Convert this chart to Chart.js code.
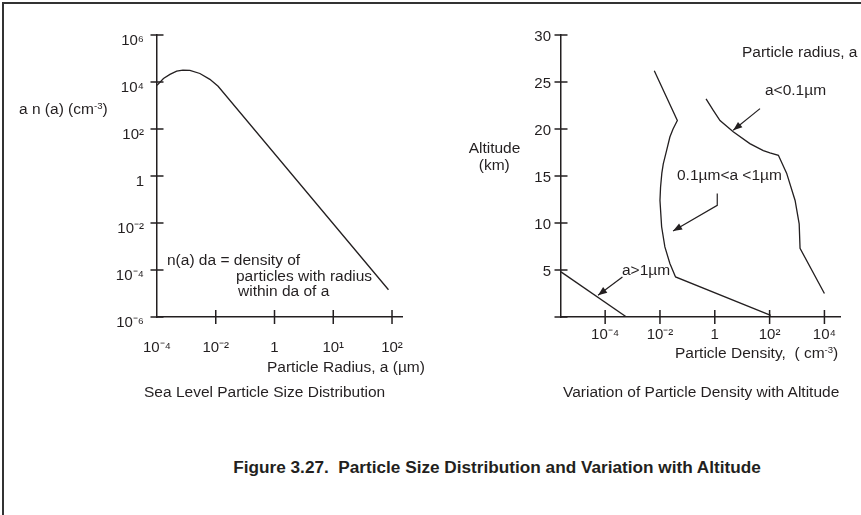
<!DOCTYPE html>
<html><head><meta charset="utf-8">
<script src="https://cdn.jsdelivr.net/npm/chart.js@4"></script>
<style>
html,body{margin:0;padding:0;background:#fff;}
#page{position:relative;width:861px;height:515px;overflow:hidden;font-family:"Liberation Sans",Arial,sans-serif;color:#231f20;}
.bl{position:absolute;left:2px;top:2px;width:2px;height:513px;background:#333;}
.bt{position:absolute;left:2px;top:2px;width:859px;height:2px;background:#333;}
.wrap{position:absolute;top:0;}
.t{position:absolute;white-space:nowrap;font-size:15.5px;line-height:1;}
.c{transform:translateX(-50%);}
.t sup{font-size:0.62em;vertical-align:0.5em;line-height:0;}
.cap{font-weight:bold;font-size:17.2px;}
</style></head>
<body><div id="page">
<div class="bl"></div><div class="bt"></div>
<div class="wrap" style="left:0;width:430px;height:420px"><canvas id="c1" width="430" height="420"></canvas></div>
<div class="wrap" style="left:430px;width:431px;height:420px"><canvas id="c2" width="431" height="420"></canvas></div>

<div class="t" style="left:19px;top:101px">a n (a) (cm<sup>-3</sup>)</div>
<div class="t" style="left:267px;top:358.5px">Particle Radius, a (µm)</div>
<div class="t" style="left:144px;top:383.5px">Sea Level Particle Size Distribution</div>
<div class="t" style="left:167px;top:252px">n(a) da = density of</div>
<div class="t" style="left:236px;top:268px">particles with radius</div>
<div class="t" style="left:238px;top:283px">within da of a</div>

<div class="t" style="left:742px;top:44px">Particle radius, a</div>
<div class="t" style="left:765px;top:82px">a&lt;0.1µm</div>
<div class="t" style="left:677px;top:167px">0.1µm&lt;a &lt;1µm</div>
<div class="t" style="left:622px;top:262px">a&gt;1µm</div>
<div class="t c" style="left:494.5px;top:140px">Altitude</div>
<div class="t c" style="left:494.3px;top:157px">(km)</div>
<div class="t" style="left:675px;top:345px">Particle Density,&nbsp; ( cm<sup>-3</sup>)</div>
<div class="t" style="left:563px;top:383.5px">Variation of Particle Density with Altitude</div>
<div class="t c cap" style="left:497px;top:458.5px">Figure 3.27.&nbsp; Particle Size Distribution and Variation with Altitude</div>
</div>
<script>
// ---- Left: sea level particle size distribution ----
const sizeTickPos = [0, 1, 2, 3, 4];
const sizeTickLabels = ['10⁻⁴', '10⁻²', '1', '10¹', '10²'];
const sizeRadiusPos = [0, 0.11, 0.22, 0.335, 0.44, 0.56, 0.73, 0.90, 1.04, 3.94];
const sizeAN = [7200, 14000, 21000, 29000, 32000, 31000, 23000, 13000, 6600, 1.45e-5];
const anTickValues = [1e-6, 1e-4, 1e-2, 1, 1e2, 1e4, 1e6];
const anTickLabels = ['10⁻⁶', '10⁻⁴', '10⁻²', '1', '10²', '10⁴', '10⁶'];

// ---- Right: particle density vs altitude ----
const densTickValues = [1e-4, 1e-2, 1, 1e2, 1e4];
const densTickLabels = ['10⁻⁴', '10⁻²', '1', '10²', '10⁴'];
const altTickValues = [0, 5, 10, 15, 20, 25, 30];
const altTickLabels = ['', '5', '10', '15', '20', '25', '30'];
const largeDensity = [2.45e-6, 6.0e-4];
const largeAlt = [4.8, 0];
const midDensity = [0.0062, 0.043, 0.030, 0.023, 0.0174, 0.0132, 0.0117, 0.0105, 0.0100, 0.0115, 0.0151, 0.023, 0.037, 110];
const midAlt = [26.2, 20.9, 20.0, 19.15, 17.7, 16.3, 15.3, 13.8, 12.4, 9.6, 7.45, 5.7, 4.26, 0.18];
const smallDensity = [0.48, 0.87, 1.55, 4.7, 19, 59, 103, 209, 417, 851, 1200, 1290, 10000];
const smallAlt = [23.2, 22.0, 20.9, 19.7, 18.45, 17.7, 17.45, 17.2, 15.3, 12.4, 9.9, 7.3, 2.5];

const INK = '#231f20';
const FAM = '"Liberation Sans", Arial, sans-serif';

const crossTicks = {
  id: 'crossTicks',
  afterDatasetsDraw(chart, args, o) {
    const ctx = chart.ctx, xs = chart.scales.x, ys = chart.scales.y;
    ctx.save(); ctx.strokeStyle = o.color; ctx.lineWidth = o.width; ctx.beginPath();
    xs.ticks.forEach(t => {
      if ((o.xSkip || []).includes(t.value)) return;
      const p = xs.getPixelForValue(t.value);
      ctx.moveTo(p, xs.top - o.xLen); ctx.lineTo(p, xs.top + o.xLen);
    });
    ys.ticks.forEach(t => {
      const p = ys.getPixelForValue(t.value);
      ctx.moveTo(ys.right - o.yLen, p); ctx.lineTo(ys.right + o.yLen, p);
    });
    ctx.stroke(); ctx.restore();
  }
};
const arrows = {
  id: 'arrows',
  afterDatasetsDraw(chart, args, o) {
    const ctx = chart.ctx, xs = chart.scales.x, ys = chart.scales.y;
    (o.items || []).forEach(it => {
      const pts = it.map(([x, y]) => [xs.getPixelForValue(x), ys.getPixelForValue(y)]);
      ctx.save(); ctx.strokeStyle = o.color; ctx.fillStyle = o.color; ctx.lineWidth = o.width;
      ctx.beginPath(); pts.forEach(([x, y], i) => i ? ctx.lineTo(x, y) : ctx.moveTo(x, y)); ctx.stroke();
      const [x1, y1] = pts[pts.length - 2], [x2, y2] = pts[pts.length - 1];
      const a = Math.atan2(y2 - y1, x2 - x1), L = o.head, W = o.headW;
      ctx.beginPath(); ctx.moveTo(x2, y2);
      ctx.lineTo(x2 - L * Math.cos(a) + W * Math.sin(a), y2 - L * Math.sin(a) - W * Math.cos(a));
      ctx.lineTo(x2 - L * Math.cos(a) - W * Math.sin(a), y2 - L * Math.sin(a) + W * Math.cos(a));
      ctx.closePath(); ctx.fill(); ctx.restore();
    });
  }
};

const zip = (xs, ys) => xs.map((x, i) => ({x, y: ys[i]}));
const lineDS = (data) => ({data, showLine: true, borderColor: INK, borderWidth: 1.3, pointRadius: 0, tension: 0, fill: false});
const tickFont = {family: FAM, size: 15};
const border = {display: true, color: INK, width: 1.5};

new Chart(document.getElementById('c1'), {
  type: 'scatter',
  data: {datasets: [lineDS(zip(sizeRadiusPos, sizeAN))]},
  options: {
    responsive: false, animation: false, devicePixelRatio: 1,
    layout: {padding: {left: 0, top: 35, right: 28, bottom: 0}},
    plugins: {legend: {display: false}, tooltip: {enabled: false},
      crossTicks: {color: INK, width: 1.5, xLen: 7, yLen: 6.5, xSkip: [0]}},
    scales: {
      x: {type: 'linear', min: 0, max: 4.17,
        afterBuildTicks: s => { s.ticks = sizeTickPos.map(v => ({value: v})); },
        afterFit: s => { s.height = 103; },
        ticks: {callback: (v, i) => sizeTickLabels[i], padding: 22, font: tickFont, color: INK, maxRotation: 0, autoSkip: false},
        grid: {display: false, drawTicks: false}, border},
      y: {type: 'logarithmic', min: 1e-6, max: 1e6,
        afterBuildTicks: s => { s.ticks = anTickValues.map(v => ({value: v})); },
        afterFit: s => { s.width = 157; },
        ticks: {callback: (v, i) => anTickLabels[i], padding: 13, labelOffset: 6, font: tickFont, color: INK, autoSkip: false},
        grid: {display: false, drawTicks: false}, border}
    }
  },
  plugins: [crossTicks]
});

new Chart(document.getElementById('c2'), {
  type: 'scatter',
  data: {datasets: [
    lineDS(zip(largeDensity, largeAlt)),
    lineDS(zip(midDensity, midAlt)),
    lineDS(zip(smallDensity, smallAlt))
  ]},
  options: {
    responsive: false, animation: false, devicePixelRatio: 1,
    layout: {padding: {left: 0, top: 35, right: 21, bottom: 0}},
    plugins: {legend: {display: false}, tooltip: {enabled: false},
      crossTicks: {color: INK, width: 1.5, xLen: 7, yLen: 6.5, xSkip: []},
      arrows: {color: INK, width: 1.2, head: 9, headW: 3.5, items: [
        [[44.7, 22.17], [4.7, 19.86]],
        [[1.23, 13.13], [1.23, 11.88], [0.030, 9.15]],
        [[4.27e-4, 4.26], [5.5e-5, 2.31]]
      ]}},
    scales: {
      x: {type: 'logarithmic', min: 2.45e-6, max: 3.7e4,
        afterBuildTicks: s => { s.ticks = densTickValues.map(v => ({value: v})); },
        afterFit: s => { s.height = 103; },
        ticks: {callback: (v, i) => densTickLabels[i], padding: 9, font: tickFont, color: INK, maxRotation: 0, autoSkip: false},
        grid: {display: false, drawTicks: false}, border},
      y: {type: 'linear', min: 0, max: 30,
        afterBuildTicks: s => { s.ticks = altTickValues.map(v => ({value: v})); },
        afterFit: s => { s.width = 131; },
        ticks: {callback: (v, i) => altTickLabels[i], padding: 10, labelOffset: 2, font: tickFont, color: INK, autoSkip: false},
        grid: {display: false, drawTicks: false}, border}
    }
  },
  plugins: [crossTicks, arrows]
});
</script>
</body></html>
